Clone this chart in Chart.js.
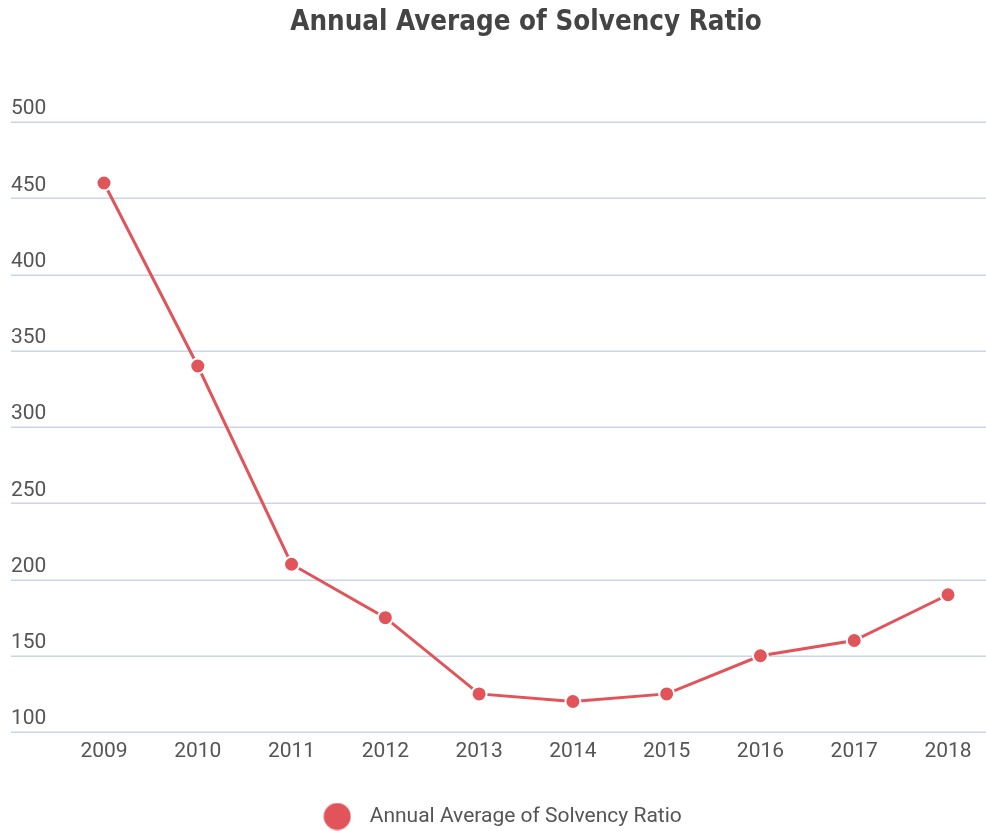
<!DOCTYPE html>
<html>
<head>
<meta charset="utf-8">
<title>Annual Average of Solvency Ratio</title>
<script src="https://cdn.jsdelivr.net/npm/chart.js@4/dist/chart.umd.min.js"></script>
<style>
  html, body { margin: 0; padding: 0; background: #fff; }
  #wrap { width: 986px; height: 831px; }
</style>
</head>
<body>
<div id="wrap"><canvas id="solvency-chart"></canvas></div>
<script>
'use strict'

/* ------------------------------ Data ------------------------------ */

const years = ['2009', '2010', '2011', '2012', '2013', '2014', '2015', '2016', '2017', '2018']
const solvencyRatio = [460, 340, 210, 175, 125, 120, 125, 150, 160, 190]
const yTicks = [100, 150, 200, 250, 300, 350, 400, 450, 500]

const seriesName = 'Annual Average of Solvency Ratio'
const red = '#e0545a'
const labelColor = '#555555'
const gridColor = '#c8d5ea'

/* ------------------------------ Helpers ------------------------------ */

// Bigger round marker for the legend entry
function legendDot (size, color) {
  const c = document.createElement('canvas')
  c.width = size
  c.height = size
  const g = c.getContext('2d')
  g.fillStyle = color
  g.beginPath()
  g.arc(size / 2, size / 2, size / 2 - 0.5, 0, Math.PI * 2)
  g.fill()
  return c
}

// Horizontal grid lines run across the whole width, past the plot area
const fullWidthGrid = {
  id: 'fullWidthGrid',
  beforeDatasetsDraw (chart) {
    const { ctx, scales: { y } } = chart
    ctx.save()
    ctx.strokeStyle = gridColor
    ctx.lineWidth = 1.5
    yTicks.forEach(v => {
      const py = Math.round(y.getPixelForValue(v)) + 0.25
      ctx.beginPath()
      ctx.moveTo(11, py)
      ctx.lineTo(chart.width, py)
      ctx.stroke()
    })
    ctx.restore()
  }
}

/* ------------------------------ Chart ------------------------------ */

const ctx = document.getElementById('solvency-chart').getContext('2d')

new Chart(ctx, {
  type: 'line',
  data: {
    labels: years,
    datasets: [{
      label: seriesName,
      data: solvencyRatio,
      borderColor: red,
      backgroundColor: red,
      borderWidth: 3,
      pointRadius: 7.5,
      pointHoverRadius: 7.5,
      pointBackgroundColor: red,
      pointBorderColor: '#ffffff',
      pointBorderWidth: 2,
      tension: 0,
      clip: false
    }]
  },
  options: {
    responsive: true,
    maintainAspectRatio: false,
    animation: false,
    layout: {
      // legend sits a little lower than its box allows
      padding: { left: 11, right: 0, top: 0, bottom: -6 }
    },
    scales: {
      x: {
        offset: false,
        afterFit (scale) { scale.height = 69 },
        grid: { display: false, drawTicks: false },
        border: { display: false },
        ticks: {
          color: labelColor,
          font: { family: 'Roboto', size: 21 },
          padding: 7,
          maxRotation: 0
        }
      },
      y: {
        min: 100,
        max: 500,
        afterFit (scale) { scale.width = 93 },
        afterBuildTicks (scale) { scale.ticks = yTicks.map(v => ({ value: v })) },
        grid: { display: false, drawTicks: false },
        border: { display: false },
        ticks: {
          color: labelColor,
          font: { family: 'Roboto', size: 21 },
          crossAlign: 'far',
          labelOffset: -13,
          padding: 0
        }
      },
      // empty strip on the right so the lines run past the last year
      yRight: {
        type: 'linear',
        position: 'right',
        afterFit (scale) { scale.width = 38 },
        grid: { display: false, drawTicks: false },
        border: { display: false },
        ticks: { display: false }
      }
    },
    plugins: {
      title: {
        display: true,
        fullSize: false,
        text: seriesName,
        color: '#444444',
        font: { family: "'Liberation Sans Narrow', 'DejaVu Sans Condensed', 'Liberation Sans', sans-serif", size: 27.5, weight: 'bold' },
        padding: { top: 6, bottom: 83 }
      },
      legend: {
        position: 'bottom',
        labels: {
          usePointStyle: true,
          pointStyle: legendDot(28, red),
          pointStyleWidth: 44,
          color: labelColor,
          font: { family: 'Roboto', size: 21 },
          padding: 5
        }
      },
      tooltip: { enabled: false }
    }
  },
  plugins: [fullWidthGrid]
})
</script>
</body>
</html>
